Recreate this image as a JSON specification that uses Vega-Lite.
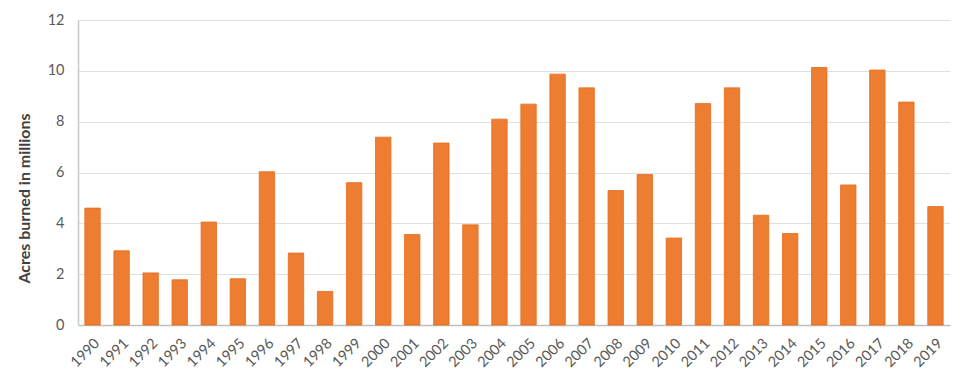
{
  "$schema": "https://vega.github.io/schema/vega-lite/v6.json",
  "width": 872,
  "height": 305,
  "autosize": {"type": "none"},
  "padding": {"left": 78, "top": 20, "right": 20, "bottom": 58},
  "background": "white",
  "data": {"values": [
    {"year": "1990", "acres": 4.6},
    {"year": "1991", "acres": 2.92},
    {"year": "1992", "acres": 2.05},
    {"year": "1993", "acres": 1.78},
    {"year": "1994", "acres": 4.05},
    {"year": "1995", "acres": 1.82},
    {"year": "1996", "acres": 6.03},
    {"year": "1997", "acres": 2.83},
    {"year": "1998", "acres": 1.32},
    {"year": "1999", "acres": 5.6},
    {"year": "2000", "acres": 7.39},
    {"year": "2001", "acres": 3.56},
    {"year": "2002", "acres": 7.16},
    {"year": "2003", "acres": 3.94},
    {"year": "2004", "acres": 8.1},
    {"year": "2005", "acres": 8.69},
    {"year": "2006", "acres": 9.87},
    {"year": "2007", "acres": 9.33},
    {"year": "2008", "acres": 5.29},
    {"year": "2009", "acres": 5.92},
    {"year": "2010", "acres": 3.42},
    {"year": "2011", "acres": 8.71},
    {"year": "2012", "acres": 9.33},
    {"year": "2013", "acres": 4.32},
    {"year": "2014", "acres": 3.6},
    {"year": "2015", "acres": 10.13},
    {"year": "2016", "acres": 5.51},
    {"year": "2017", "acres": 10.03},
    {"year": "2018", "acres": 8.77},
    {"year": "2019", "acres": 4.66}
  ]},
  "mark": {"type": "bar", "color": "#ED7D31", "stroke": "#E8691A", "strokeWidth": 0.8},
  "encoding": {
    "x": {
      "field": "year", "type": "ordinal",
      "scale": {"paddingInner": 0.47, "paddingOuter": 0.235},
      "axis": {
        "title": null, "labelAngle": -45, "labelFont": "Lato", "labelFontSize": 14.5,
        "labelColor": "#595959", "ticks": false, "domainColor": "#BFBFBF", "domainWidth": 1.5,
        "labelPadding": 11
      }
    },
    "y": {
      "field": "acres", "type": "quantitative",
      "scale": {"domain": [0, 12]},
      "axis": {
        "values": [0, 2, 4, 6, 8, 10, 12], "title": "Acres burned in millions",
        "titleFont": "Lato", "titleFontSize": 16, "titleFontWeight": "bold", "titleColor": "#404040",
        "titleX": -54, "titleY": 178, "titleAngle": -90, "titleAlign": "center", "titleBaseline": "middle",
        "labelFont": "Lato", "labelFontSize": 14.5, "labelColor": "#595959", "labelPadding": 14,
        "ticks": false, "domainColor": "#C8C8C8", "domainWidth": 1.5,
        "grid": true, "gridColor": "#E0E0E0", "gridWidth": 1
      }
    }
  },
  "config": {"view": {"stroke": null}}
}
